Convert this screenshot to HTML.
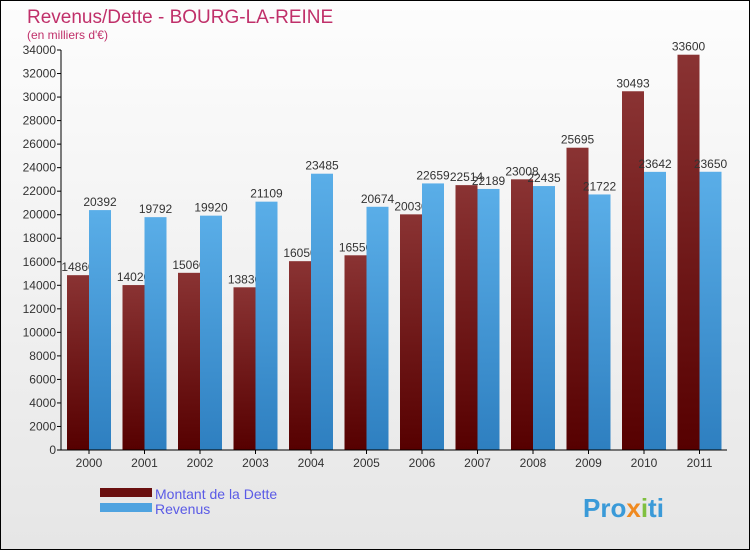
<!DOCTYPE html>
<html><head><meta charset="utf-8"><style>
body{margin:0}
#c{width:748px;height:548px;border:1px solid #000;background:linear-gradient(#fdfdfd,#e6e6e6);position:relative;font-family:"Liberation Sans",sans-serif;overflow:hidden}
</style></head><body>
<div id="c">
<svg id="s" width="748" height="548">
<defs>
<linearGradient id="gd" x1="0" y1="0" x2="0" y2="1"><stop offset="0" stop-color="#8a3333"/><stop offset="1" stop-color="#560000"/></linearGradient>
<linearGradient id="gr" x1="0" y1="0" x2="0" y2="1"><stop offset="0" stop-color="#5aaee8"/><stop offset="1" stop-color="#2e7fc0"/></linearGradient>
</defs>
<text x="26" y="22" font-size="19" fill="#c0306a">Revenus/Dette - BOURG-LA-REINE</text>
<text x="26" y="38" font-size="12" fill="#c0306a">(en milliers d'€)</text>
<g id="plot"></g>
<rect x="99" y="487" width="52" height="9" fill="#6a1010"/>
<rect x="99" y="502" width="52" height="9" fill="#4fa3e0"/>
<text x="154" y="498" font-size="14" fill="#5a5ae6">Montant de la Dette</text>
<text x="154" y="513" font-size="14" fill="#5a5ae6">Revenus</text>
<text x="582" y="516" font-size="26" font-weight="bold" fill="#3a9ad8">Pro<tspan fill="#f08a20">x</tspan><tspan fill="#80c040">i</tspan>ti</text>
</svg>
</div>
<script>
const years=["2000","2001","2002","2003","2004","2005","2006","2007","2008","2009","2010","2011"];
const dette=[14860,14020,15060,13830,16050,16550,20030,22514,23008,25695,30493,33600];
const revenus=[20392,19792,19920,21109,23485,20674,22659,22189,22435,21722,23642,23650];
const ticks=[0,2000,4000,6000,8000,10000,12000,14000,16000,18000,20000,22000,24000,26000,28000,30000,32000,34000];
const NS="http://www.w3.org/2000/svg";
const g=document.getElementById("plot");
const y0=449,yT=49,vmax=34000,x0=60,step=55.5,bw=22;
const Y=v=>y0-(v/vmax)*(y0-yT);
const X=i=>x0+28+i*step;
function mk(t,a){const e=document.createElementNS(NS,t);for(const k in a)e.setAttribute(k,a[k]);g.appendChild(e);return e;}
ticks.forEach(t=>{
 const l=mk("line",{x1:x0-4,x2:x0,y1:Y(t),y2:Y(t),stroke:"#000"});
 
 
 const tx=mk("text",{x:x0-5,y:Y(t)+4,"font-size":"12","text-anchor":"end",fill:"#333"});tx.textContent=t;
 
 
});
years.forEach((yr,i)=>{
 const c=X(i);
 const b1=mk("rect",{x:c-bw,y:Y(dette[i]),width:bw,height:y0-Y(dette[i]),fill:"url(#gd)"});
 
 
 const t1=mk("text",{x:c-bw/2,y:Y(dette[i])-4,"font-size":"12","text-anchor":"middle",fill:"#333"});t1.textContent=dette[i];
 
 
 const b2=mk("rect",{x:c,y:Y(revenus[i]),width:bw,height:y0-Y(revenus[i]),fill:"url(#gr)"});
 
 
 const t2=mk("text",{x:c+bw/2,y:Y(revenus[i])-4,"font-size":"12","text-anchor":"middle",fill:"#333"});t2.textContent=revenus[i];
 
 
 const xl=mk("text",{x:c,y:466,"font-size":"12","text-anchor":"middle",fill:"#333"});xl.textContent=yr;
 
 
 const xt=mk("line",{x1:c,x2:c,y1:y0,y2:y0+4,stroke:"#000"});
 
 
});
const ya=mk("line",{x1:x0,x2:x0,y1:yT,y2:y0,stroke:"#000"});


const xa=mk("line",{x1:x0,x2:726,y1:y0,y2:y0,stroke:"#000"});


</script>
</body></html>
